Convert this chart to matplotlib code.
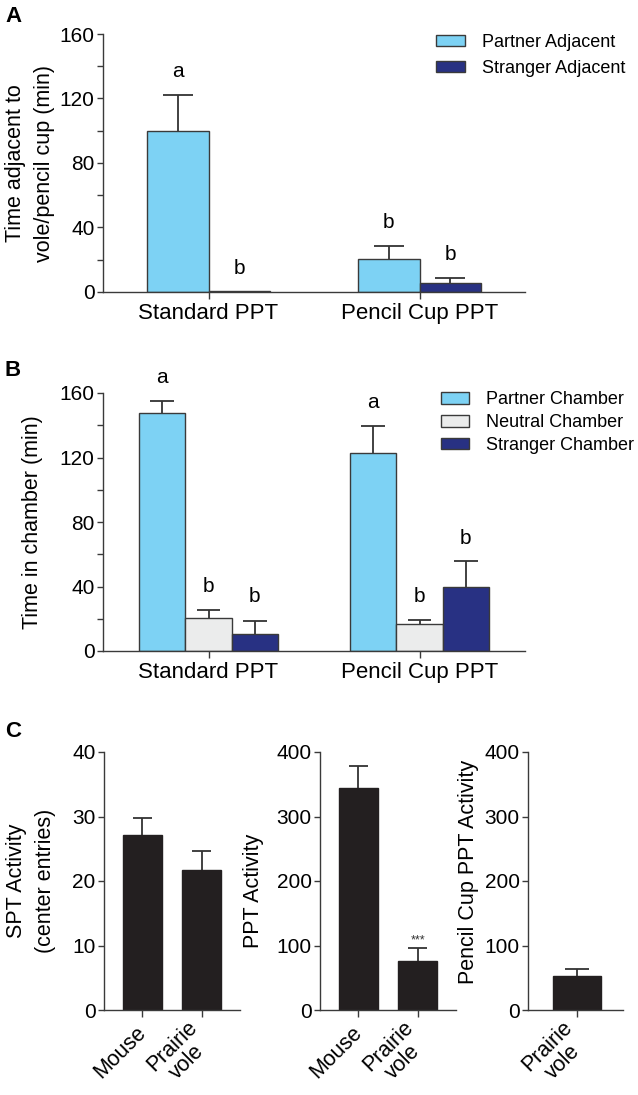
import matplotlib
matplotlib.use("Agg")
import matplotlib.pyplot as plt
import matplotlib.transforms as mtransforms
import numpy as np

plt.rcParams['font.family'] = ['Liberation Sans', 'DejaVu Sans']

# ---------------- data ----------------
groups = ["Standard PPT", "Pencil Cup PPT"]

# Panel A
a_series = ["Partner Adjacent", "Stranger Adjacent"]
a_partner = [100.0, 20.5]
a_partner_err = [22.0, 8.0]
a_stranger = [0.5, 5.4]
a_stranger_err = [0.0, 3.5]
a_letters_partner = ["a", "b"]
a_letters_stranger = ["b", "b"]
a_letter_y_partner = [137.0, 43.0]
a_letter_y_stranger = [14.5, 23.0]

# Panel B
b_series = ["Partner Chamber", "Neutral Chamber", "Stranger Chamber"]
b_partner = [147.6, 122.6]
b_partner_err = [7.6, 16.9]
b_neutral = [20.7, 17.0]
b_neutral_err = [4.9, 2.2]
b_stranger = [10.7, 39.5]
b_stranger_err = [7.9, 16.1]
b_letters = [["a", "a"], ["b", "b"], ["b", "b"]]
b_letter_y = [[169.5, 154.4], [40.0, 33.5], [33.5, 69.7]]

# Panel C
c1_labels = ["Mouse", "Prairie\nvole"]
c1_values = [27.15, 21.7]
c1_err = [2.65, 2.9]
c2_labels = ["Mouse", "Prairie\nvole"]
c2_values = [344.0, 76.4]
c2_err = [35.0, 19.3]
c3_labels = ["Prairie\nvole"]
c3_values = [52.2]
c3_err = [10.8]

# ---------------- style ----------------
C_PARTNER = "#7DD2F4"
C_NEUTRAL = "#EBECEC"
C_STRANGER = "#283183"
C_BLACK = "#231F20"
EDGE = "#3a3a3a"
AXC = "#3a3a3a"
W, H = 638, 1095

fig = plt.figure(figsize=(W / 100, H / 100), dpi=100)


def add_axes_px(x0, x1, ytop, ybot):
    return fig.add_axes([x0 / W, 1 - ybot / H, (x1 - x0) / W, (ybot - ytop) / H])


def style_axes(ax):
    for s in ("top", "right"):
        ax.spines[s].set_visible(False)
    for s in ("left", "bottom"):
        ax.spines[s].set_color(AXC)
        ax.spines[s].set_linewidth(1.0)
    ax.tick_params(axis="both", which="both", direction="out", color=AXC,
                   width=1.0, length=4, labelsize=15, pad=2)
    ax.tick_params(axis="x", length=5, pad=3, labelsize=16)


def draw_err(ax, x, y, e, bar_w):
    x = np.asarray(x, float)
    top = np.asarray(y, float) + np.asarray(e, float)
    ax.vlines(x, y, top, colors="#333333", linewidth=1.3, zorder=1)
    ax.hlines(top, x - bar_w / 4, x + bar_w / 4, colors="#333333", linewidth=1.3, zorder=1)


# ---------------- Panel A ----------------
axA = add_axes_px(103, 525, 34, 292)
style_axes(axA)
xg = np.arange(len(groups))
wA = 0.29
axA.bar(xg - wA / 2, a_partner, wA, color=C_PARTNER, edgecolor=EDGE, linewidth=1.0,
        label=a_series[0], zorder=2)
axA.bar(xg + wA / 2, a_stranger, wA, color=C_STRANGER, edgecolor=EDGE, linewidth=1.0,
        label=a_series[1], zorder=2)
draw_err(axA, xg - wA / 2, a_partner, a_partner_err, wA)
draw_err(axA, xg[1:] + wA / 2, a_stranger[1:], a_stranger_err[1:], wA)
for i in range(len(groups)):
    axA.text(xg[i] - wA / 2, a_letter_y_partner[i], a_letters_partner[i], ha="center",
             va="center", fontsize=15)
    axA.text(xg[i] + wA / 2, a_letter_y_stranger[i], a_letters_stranger[i], ha="center",
             va="center", fontsize=15)
axA.set_xlim(-0.5, 1.5)
axA.set_ylim(0, 160)
axA.set_yticks([0, 40, 80, 120, 160])
axA.set_yticks([20, 60, 100, 140], minor=True)
axA.set_xticks(xg)
axA.set_xticklabels(groups)
axA.set_ylabel("Time adjacent to\nvole/pencil cup (min)", fontsize=15.5, linespacing=1.5)
axA.yaxis.label.set_va("center")
axA.yaxis.set_label_coords(-0.172, 0.5)
axA.legend(loc="upper left", bbox_to_anchor=(0.79, 1.0), frameon=False, fontsize=13,
           handlelength=1.6, handleheight=0.6, handletextpad=0.9, labelspacing=0.5,
           borderpad=0, borderaxespad=0)

# ---------------- Panel B ----------------
axB = add_axes_px(103, 525, 393, 651)
style_axes(axB)
wB = 0.22
b_vals = [b_partner, b_neutral, b_stranger]
b_errs = [b_partner_err, b_neutral_err, b_stranger_err]
b_cols = [C_PARTNER, C_NEUTRAL, C_STRANGER]
for k in range(3):
    xs = xg + (k - 1) * wB
    axB.bar(xs, b_vals[k], wB, color=b_cols[k], edgecolor=EDGE, linewidth=1.0,
            label=b_series[k], zorder=2)
    draw_err(axB, xs, b_vals[k], b_errs[k], wB)
    for i in range(len(groups)):
        axB.text(xs[i], b_letter_y[k][i], b_letters[k][i], ha="center", va="center",
                 fontsize=15, clip_on=False)
axB.set_xlim(-0.5, 1.5)
axB.set_ylim(0, 160)
axB.set_yticks([0, 40, 80, 120, 160])
axB.set_yticks([20, 60, 100, 140], minor=True)
axB.set_xticks(xg)
axB.set_xticklabels(groups)
axB.set_ylabel("Time in chamber (min)", fontsize=15.5)
axB.yaxis.label.set_va("center")
axB.yaxis.set_label_coords(-0.168, 0.5)
axB.legend(loc="upper left", bbox_to_anchor=(0.80, 1.007), frameon=False, fontsize=13,
           handlelength=1.6, handleheight=0.6, handletextpad=0.9, labelspacing=0.33,
           borderpad=0, borderaxespad=0)


# ---------------- Panel C ----------------
def panel_c(ax, labels, vals, errs, ylim, yticks, xlim, width, ylabel, lab_x, lab_y):
    style_axes(ax)
    x = np.arange(len(vals))
    ax.bar(x, vals, width, color=C_BLACK, edgecolor=C_BLACK, linewidth=1.0, zorder=2)
    draw_err(ax, x, vals, errs, width)
    ax.set_xlim(*xlim)
    ax.set_ylim(*ylim)
    ax.set_yticks(yticks)
    ax.set_xticks(x)
    ax.set_xticklabels(labels, rotation=45, ha="right", va="center",
                       rotation_mode="anchor", multialignment="center", fontsize=15.5,
                       linespacing=1.05)
    ax.tick_params(axis="x", pad=9)
    for lab in ax.get_xticklabels():
        if "\n" in lab.get_text():
            off = mtransforms.ScaledTranslation(0.0, -0.03, fig.dpi_scale_trans)
            lab.set_transform(lab.get_transform() + off)
    ax.set_ylabel(ylabel, fontsize=15.5, linespacing=1.5)
    ax.yaxis.label.set_va("center")
    ax.yaxis.set_label_coords(lab_x, lab_y)
    return ax


axC1 = add_axes_px(104, 240, 752, 1010)
panel_c(axC1, c1_labels, c1_values, c1_err, (0, 40), [0, 10, 20, 30, 40], (-0.65, 1.65),
        0.67, "SPT Activity\n(center entries)", -0.54, 0.5)
axC2 = add_axes_px(320, 456, 752, 1010)
panel_c(axC2, c2_labels, c2_values, c2_err, (0, 400), [0, 100, 200, 300, 400],
        (-0.65, 1.65), 0.67, "PPT Activity", -0.49, 0.46)
axC2.text(1, 108, "***", ha="center", va="center", fontsize=9, color="#333333")
axC3 = add_axes_px(528, 623, 752, 1010)
panel_c(axC3, c3_labels, c3_values, c3_err, (0, 400), [0, 100, 200, 300, 400],
        (-0.83, 0.78), 0.81, "Pencil Cup PPT Activity", -0.63, 0.535)

# panel letters
for letter, ytop in (("A", 6), ("B", 360), ("C", 721)):
    fig.text(5 / W, 1 - ytop / H, letter, ha="left", va="top", fontsize=16,
             fontweight="bold")

fig.savefig("out.png", dpi=100)
